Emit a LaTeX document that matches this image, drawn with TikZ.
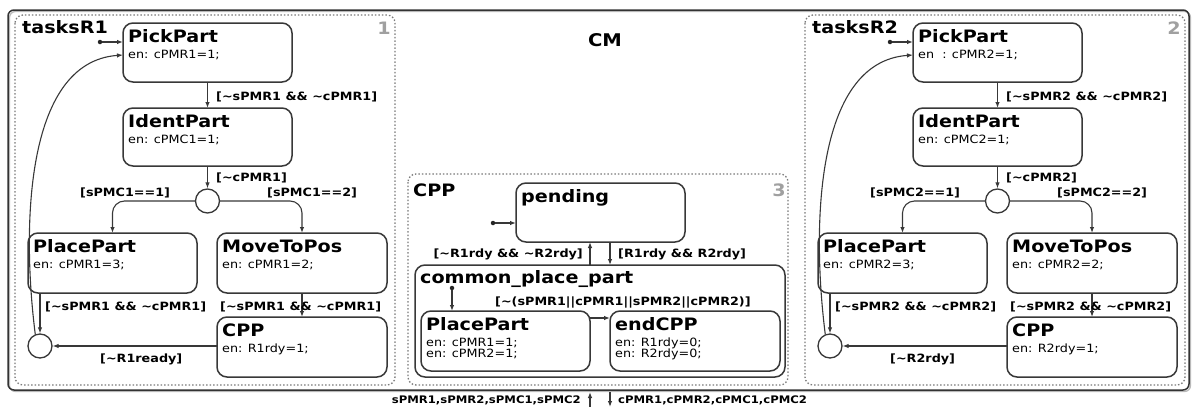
\documentclass[tikz,border=0pt]{standalone}
\usepackage{fontspec}
\setmainfont{DejaVu Sans}[FakeStretch=1.12]
\usetikzlibrary{arrows.meta}
\definecolor{ln}{HTML}{383838}
\definecolor{dotc}{HTML}{7A7A7A}
\definecolor{numc}{HTML}{A0A0A0}
\newcommand\tl{\textasciitilde}
\tikzset{
 stbox/.style={draw=ln, line width=1.5pt, rounded corners=10pt, inner sep=0pt, outer sep=0pt},
 ttl/.style={font=\fontsize{17.1}{18}\selectfont\bfseries, inner sep=0pt},
 ent/.style={font=\fontsize{11.4}{12}\selectfont, inner sep=0pt},
 lbl/.style={font=\fontsize{11.4}{12}\selectfont\bfseries, inner sep=0pt},
 bot/.style={font=\fontsize{10.4}{12}\selectfont\bfseries, inner sep=0pt},
 regname/.style={font=\fontsize{17.1}{18}\selectfont\bfseries, inner sep=0pt},
 regnum/.style={font=\fontsize{17.1}{18}\selectfont\bfseries, text=numc, inner sep=0pt},
 regionfr/.style={draw=dotc, line width=1.3pt, dash pattern=on 1.5pt off 2pt, rounded corners=8pt},
 junc/.style={circle, draw=ln, line width=1.3pt, fill=white, minimum size=24pt, inner sep=0pt},
 dotn/.style={circle, fill=black!85, minimum size=4.5pt, inner sep=0pt},
 arr/.style={draw=ln, line width=1.1pt, -{Latex[length=6pt,width=4.5pt]}},
}
\newcommand\stbox[7]{%
 \node[stbox, anchor=north west, minimum width=#4pt, minimum height=#5pt] (#1) at (#2,#3) {};
 \node[ttl, anchor=base west] (#1-t) at (#2+5,#3+19.5) {#6};
 \node[ent, anchor=base west] (#1-e) at (#2+5,#3+35) {#7};}
\newcommand\robot[5]{%
 \begin{scope}[xshift=#3pt]
 \draw[regionfr] (15,15) rectangle (395,385);
 \node[regname, anchor=base west] (#1name) at (22,33) {tasksR#2};
 \node[regnum, anchor=base east] (#1num) at (391,34) {#2};
 \stbox{#1pick}{123}{23}{169}{59}{PickPart}{#5}
 \stbox{#1ident}{123}{108}{169}{58}{IdentPart}{en: cPMC#2=1;}
 \stbox{#1place}{28}{233}{169}{60}{PlacePart}{en: cPMR#2=3;}
 \stbox{#1move}{217}{233}{170}{60}{MoveToPos}{en: cPMR#2=2;}
 \stbox{#1cpp}{217}{317}{170}{60}{CPP}{en: R#2rdy=1;}
 \node[junc] (#1j1) at (207.5,201) {};
 \node[junc] (#1j2) at (40,346) {};
 \node[dotn] (#1init) at (100,42) {};
 \coordinate (#1back) at (0,55);
 \draw[arr] (#1init) -- (#1pick.west |- #1init);
 \draw[arr] (#1pick.south) -- (#1ident.north);
 \draw[arr] (#1ident.south) -- (#1j1.north);
 \draw[arr, rounded corners=12pt] (#1j1.west) -| (#1place.north);
 \draw[arr, rounded corners=12pt] (#1j1.east) -| (#1move.north);
 \draw[arr] (#1place.south -| #1j2) -- (#1j2.north);
 \draw[arr] (#1move.south) -- (#1cpp.north);
 \draw[arr] (#1cpp.west |- #1j2) -- (#1j2.east);
 \draw[arr] (#1j2.112) .. controls (22,230) and (24,62) .. (#1pick.west |- #1back);
 \node[lbl, anchor=base west] (#1l1) at (216,100) {[\tl sPMR#2 \&\& \tl cPMR#2]};
 \node[lbl, anchor=base west] (#1l2) at (216,181) {[\tl cPMR#2]};
 \node[lbl, anchor=base west] (#1l3) at (80,196) {[sPMC#2==1]};
 \node[lbl, anchor=base west] (#1l4) at (267,196) {[sPMC#2==2]};
 \node[lbl, anchor=base west] (#1l5) at (45,310) {[\tl sPMR#2 \&\& \tl cPMR#2]};
 \node[lbl, anchor=base west] (#1l6) at (220,310) {[\tl sPMR#2 \&\& \tl cPMR#2]};
 \node[lbl, anchor=base west] (#1l7) at (100,362) {#4};
 \end{scope}}
\begin{document}
\begin{tikzpicture}[x=1pt,y=-1pt]
\useasboundingbox (0,0) rectangle (1192,407);
\draw[line width=1.3pt, gray!55, rounded corners=6pt] (9.5,11.5) rectangle (1190.5,391.5);
\draw[line width=1.5pt, black!80, rounded corners=6pt] (8,10) rectangle (1189,390);
\node[font=\fontsize{17.5}{18}\selectfont\bfseries, inner sep=0pt, anchor=base] (cm) at (605,46) {CM};
\robot{a}{1}{0}{[\tl R1ready]}{en: cPMR1=1;}
\robot{b}{2}{790}{[\tl R2rdy]}{en \ : cPMR2=1;}
% CPP region
\draw[regionfr] (408,174) rectangle (788,385);
\node[regname, anchor=base west] (cppname) at (413,196) {CPP};
\node[regnum, anchor=base east] (cppnum) at (786,196) {3};
\stbox{pend}{516}{183}{169}{59}{pending}{}
\node[stbox, anchor=north west, minimum width=370pt, minimum height=112pt] (cpo) at (415,265) {};
\node[ttl, anchor=base west] (cpo-t) at (420,283) {common\_place\_part};
\stbox{ipp}{421}{311}{169}{60}{PlacePart}{en: cPMR1=1;}
\node[ent, anchor=base west] (ipp-e2) at (426,357) {en: cPMR2=1;};
\stbox{endc}{610}{311}{170}{60}{endCPP}{en: R1rdy=0;}
\node[ent, anchor=base west] (endc-e2) at (615,357) {en: R2rdy=0;};
\node[dotn] (pinit) at (493,223) {};
\draw[arr] (pinit) -- (pend.west |- pinit);
\coordinate (upx) at (590,0);
\coordinate (dnx) at (610,0);
\draw[arr] (cpo.north -| upx) -- (pend.south -| upx);
\draw[arr] (pend.south -| dnx) -- (cpo.north -| dnx);
\node[lbl, anchor=base east] (lup) at (583,257) {[\tl R1rdy \&\& \tl R2rdy]};
\node[lbl, anchor=base west] (ldn) at (618,257) {[R1rdy \&\& R2rdy]};
\node[dotn] (cinit) at (452,288) {};
\draw[arr] (cinit) -- (ipp.north -| cinit);
\coordinate (yl) at (0,318);
\draw[arr] (ipp.east |- yl) -- (endc.west |- yl);
\node[lbl, anchor=base west] (lend) at (495,305) {[\tl(sPMR1||cPMR1||sPMR2||cPMR2)]};
% bottom interface
\coordinate (bu1) at (590,407);
\coordinate (bu2) at (590,392);
\coordinate (bd1) at (610,392);
\coordinate (bd2) at (610,407);
\draw[arr] (bu1) -- (bu2);
\draw[arr] (bd1) -- (bd2);
\node[bot, anchor=base east] (bin) at (581,403) {sPMR1,sPMR2,sPMC1,sPMC2};
\node[bot, anchor=base west] (bout) at (618,403) {cPMR1,cPMR2,cPMC1,cPMC2};
\end{tikzpicture}
\end{document}
